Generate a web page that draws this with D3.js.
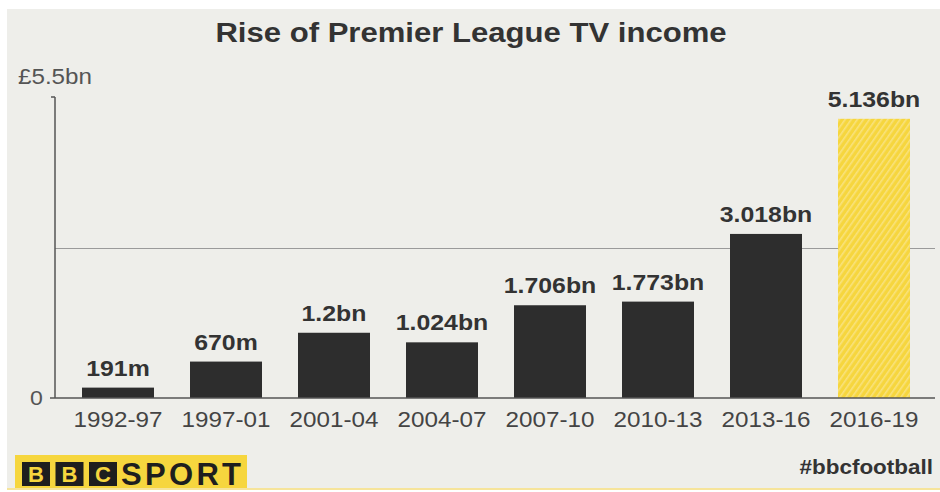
<!DOCTYPE html>
<html>
<head>
<meta charset="utf-8">
<script src="https://cdn.jsdelivr.net/npm/d3@7.9.0/dist/d3.min.js"></script>
<style>
  html, body { margin: 0; padding: 0; background: #fff; }
  svg { display: block; font-family: "Liberation Sans", Arial, Helvetica, sans-serif; }
</style>
</head>
<body>
<div id="chart"></div>
<script>
const periods = ['1992-97', '1997-01', '2001-04', '2004-07', '2007-10', '2010-13', '2013-16', '2016-19'];
const income = [0.191, 0.670, 1.2, 1.024, 1.706, 1.773, 3.018, 5.136];
const labels = ['191m', '670m', '1.2bn', '1.024bn', '1.706bn', '1.773bn', '3.018bn', '5.136bn'];
const yTicks = [0, 2.75, 5.5];
const highlight = '2016-19';

const width = 940;
const height = 492;

const svg = d3.select('#chart')
  .append('svg')
  .attr('width', width)
  .attr('height', height);

// the original type is a bit wider than Liberation Sans, so stretch it sideways
function label(parent, x, y, str, opts) {
  const g = parent.append('g')
    .attr('transform', `translate(${x},${y}) scale(${opts.sx || 1},1)`);
  return g.append('text')
    .attr('text-anchor', opts.anchor || 'start')
    .attr('font-size', opts.size)
    .attr('font-weight', opts.bold ? 'bold' : 'normal')
    .attr('fill', opts.fill || '#333')
    .text(str);
}

// hatch for the projected bar
const pat = svg.append('defs').append('pattern')
  .attr('id', 'hatch')
  .attr('patternUnits', 'userSpaceOnUse')
  .attr('width', 5)
  .attr('height', 5)
  .attr('patternTransform', 'rotate(35)');
pat.append('rect').attr('width', 5).attr('height', 5).attr('fill', '#f6d63e');
pat.append('rect').attr('width', 1.6).attr('height', 5).attr('fill', '#f9e27c');

// background panel
svg.append('rect')
  .attr('x', 7).attr('y', 9)
  .attr('width', width - 7).attr('height', 480)
  .attr('fill', '#eeeeea');
svg.append('rect')
  .attr('x', 7).attr('y', 488)
  .attr('width', width - 7).attr('height', 2)
  .attr('fill', '#f6e49a');

const x = d3.scaleBand()
  .domain(periods)
  .range([64, 928])
  .paddingInner(1 / 3)
  .paddingOuter(1 / 6);

const y = d3.scaleLinear().domain([0, 5.5]).range([398, 99]);

// title
label(svg, 471, 42, 'Rise of Premier League TV income', { size: 28, bold: true, anchor: 'middle', sx: 1.11 });

// gridline at the middle
svg.append('g')
  .selectAll('line')
  .data(yTicks.filter(d => d > 0 && d < 5.5))
  .join('line')
  .attr('x1', 55).attr('x2', 935)
  .attr('y1', d => y(d)).attr('y2', d => y(d))
  .attr('stroke', '#9a9a9a')
  .attr('stroke-width', 1);

// bars
svg.append('g')
  .selectAll('rect')
  .data(periods)
  .join('rect')
  .attr('x', d => x(d))
  .attr('width', x.bandwidth())
  .attr('y', (d, i) => y(income[i]))
  .attr('height', (d, i) => y(0) - y(income[i]))
  .attr('fill', d => d === highlight ? 'url(#hatch)' : '#2d2d2d');

// value labels
const valG = svg.append('g');
periods.forEach((d, i) => {
  label(valG, x(d) + x.bandwidth() / 2, y(income[i]) - 12, labels[i],
    { size: 22, bold: true, anchor: 'middle', sx: 1.13 });
});

// y axis
svg.append('line')
  .attr('x1', 55).attr('x2', 55)
  .attr('y1', y(5.5) - 2).attr('y2', y(0))
  .attr('stroke', '#555').attr('stroke-width', 1.5);
svg.append('line')
  .attr('x1', 51).attr('x2', 55)
  .attr('y1', y(5.5) - 2).attr('y2', y(5.5) - 2)
  .attr('stroke', '#555').attr('stroke-width', 1.5);

// x axis baseline
svg.append('line')
  .attr('x1', 50).attr('x2', 935)
  .attr('y1', y(0)).attr('y2', y(0))
  .attr('stroke', '#555').attr('stroke-width', 1.5);

label(svg, 18, 84, '£5.5bn', { size: 22, fill: '#555', sx: 1.1 });
label(svg, 30, y(0) + 7, '0', { size: 21, fill: '#555', sx: 1.1 });

// period labels
const perG = svg.append('g');
periods.forEach(d => {
  label(perG, x(d) + x.bandwidth() / 2, 427, d, { size: 22, fill: '#444', anchor: 'middle', sx: 1.1 });
});

// BBC SPORT logo
const logo = svg.append('g');
logo.append('rect')
  .attr('x', 15).attr('y', 455).attr('width', 232).attr('height', 33)
  .attr('fill', '#f6d63e');
['B', 'B', 'C'].forEach((c, i) => {
  const bx = 22 + i * 33.5;
  logo.append('rect')
    .attr('x', bx).attr('y', 462).attr('width', 28).attr('height', 24)
    .attr('fill', '#1e1e1e');
  logo.append('text')
    .attr('x', bx + 14).attr('y', 482)
    .attr('text-anchor', 'middle')
    .attr('font-size', 22)
    .attr('font-weight', 'bold')
    .attr('fill', '#f6d63e')
    .text(c);
});
logo.append('text')
  .attr('x', 121).attr('y', 485)
  .attr('font-size', 31)
  .attr('font-weight', 'bold')
  .attr('fill', '#1e1e1e')
  .attr('textLength', 120)
  .text('SPORT');

label(svg, 933, 474, '#bbcfootball', { size: 21, bold: true, anchor: 'end', sx: 1.07 });
</script>
</body>
</html>
